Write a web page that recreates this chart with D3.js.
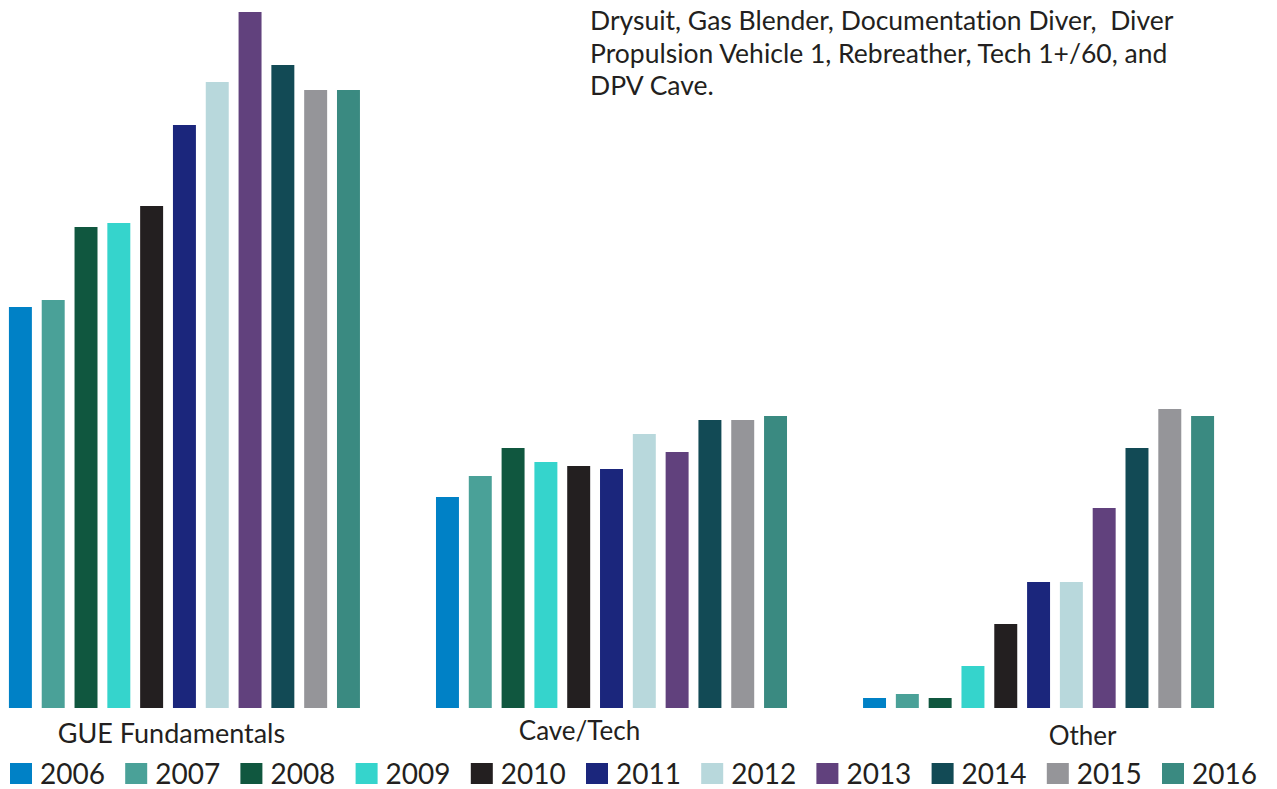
<!DOCTYPE html>
<html>
<head>
<meta charset="utf-8">
<script src="https://cdn.jsdelivr.net/npm/d3@7"></script>
<style>
  body { margin: 0; background: #fff; }
  svg { display: block; font-family: Lato, "Open Sans", sans-serif; font-variant-ligatures: none; }
</style>
</head>
<body>
<svg></svg>
<script>
// course groups and years
const categories = ["GUE Fundamentals", "Cave/Tech", "Other"];
const years = ["2006", "2007", "2008", "2009", "2010", "2011", "2012", "2013", "2014", "2015", "2016"];

// values per year (no axis in the original, so relative units)
const gueFundamentals = [401, 408, 481, 485, 502, 583, 626, 696, 643, 618, 618];
const caveTech = [211, 232, 260, 246, 242, 239, 274, 256, 288, 288, 292];
const other = [10, 14, 10, 42, 84, 126, 126, 200, 260, 299, 292];

const yearColors = ["#0081c6", "#4aa198", "#10573f", "#35d4cc", "#231f20", "#1b267c",
                    "#b8d8dc", "#61417d", "#124a55", "#959599", "#3a8a81"];

const noteLines = [
  "Drysuit, Gas Blender, Documentation Diver,  Diver",
  "Propulsion Vehicle 1, Rebreather, Tech 1+/60, and",
  "DPV Cave."
];

const series = [gueFundamentals, caveTech, other];
const table = categories.map((c, ci) => ({
  category: c,
  bars: years.map((y, yi) => ({ year: y, value: series[ci][yi] }))
}));

const W = 1277, H = 789;
const svg = d3.select("svg").attr("width", W).attr("height", H);

const x0 = d3.scaleBand()
  .domain(categories)
  .range([4, 1219])
  .paddingInner(0.155)
  .paddingOuter(0);

const x1 = d3.scaleBand()
  .domain(years)
  .range([0, x0.bandwidth()])
  .paddingInner(0.3)
  .paddingOuter(0.15);

const y = d3.scaleLinear()
  .domain([0, 700])
  .range([708, 8]);

const color = d3.scaleOrdinal().domain(years).range(yearColors);

const groups = svg.selectAll("g.group")
  .data(table)
  .enter()
  .append("g")
  .attr("class", "group")
  .attr("transform", d => `translate(${x0(d.category)},0)`);

groups.selectAll("rect")
  .data(d => d.bars)
  .enter()
  .append("rect")
  .attr("x", d => x1(d.year))
  .attr("width", x1.bandwidth())
  .attr("y", d => y(d.value))
  .attr("height", d => y(0) - y(d.value))
  .attr("fill", d => color(d.year));

// category labels sit a bit off-centre in the original
const labelDx = [-13, -32, 44];
const labelY = [743, 740, 745];
groups.append("text")
  .text(d => d.category)
  .attr("x", (d, i) => x0.bandwidth() / 2 + labelDx[i])
  .attr("y", (d, i) => labelY[i])
  .attr("text-anchor", "middle")
  .style("font-size", (d, i) => i === 0 ? "27px" : "26px")
  .attr("fill", "#231f20");

// legend
const legend = svg.selectAll("g.legend")
  .data(years)
  .enter()
  .append("g")
  .attr("class", "legend")
  .attr("transform", (d, i) => `translate(${10 + i * 115.2},763)`);

legend.append("rect")
  .attr("width", 22)
  .attr("height", 21)
  .attr("fill", d => color(d));

legend.append("text")
  .text(d => d)
  .attr("x", 30)
  .attr("y", 21)
  .style("font-size", "28px")
  .attr("fill", "#231f20");

// note text in the top right, partly cut off in the source
svg.append("g")
  .selectAll("text")
  .data(noteLines)
  .enter()
  .append("text")
  .text(d => d)
  .attr("x", 590)
  .attr("y", (d, i) => 30 + i * 32.5)
  .style("font-size", "26.5px")
  .attr("xml:space", "preserve")
  .attr("fill", "#231f20");
</script>
</body>
</html>
